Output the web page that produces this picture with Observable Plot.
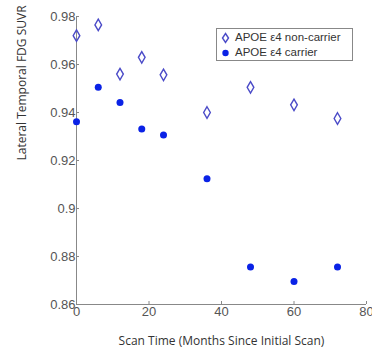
<!DOCTYPE html>
<html>
<head>
<meta charset="utf-8">
<script src="https://cdn.jsdelivr.net/npm/d3@7"></script>
<script src="https://cdn.jsdelivr.net/npm/@observablehq/plot@0.6"></script>
<style>
  html, body { margin: 0; padding: 0; background: #fff; }
  #wrap { position: relative; width: 372px; height: 348px; }
  #legend { position: absolute; left: 216px; top: 28px; width: 137px; height: 33px;
    border: 1px solid #888; background: #fff; font-family: "Liberation Sans", Arial, sans-serif;
    font-size: 11.5px; color: #333; box-sizing: border-box; padding: 1px 0 0 4px; line-height: 15px; }
  #legend .row { display: flex; align-items: center; white-space: nowrap; }
  #legend svg { margin-right: 5px; }
</style>
</head>
<body>
<div id="wrap"></div>
<script>
const months = [0, 6, 12, 18, 24, 36, 48, 60, 72];
const nonCarrier = [0.972, 0.9765, 0.956, 0.963, 0.9557, 0.940, 0.9505, 0.9432, 0.9375];
const carrier = [0.9361, 0.9505, 0.9442, 0.9331, 0.9306, 0.9124, 0.8756, 0.8696, 0.8756];
const yTicks = [0.86, 0.88, 0.9, 0.92, 0.94, 0.96, 0.98];
const xTicks = [0, 20, 40, 60, 80];
const seriesNames = ["APOE \u03b54 non-carrier", "APOE \u03b54 carrier"];
const colorNon = "#4b4bc8";
const colorCar = "#0a22e6";

const nonData = months.map((m, i) => ({m, v: nonCarrier[i]}));
const carData = months.map((m, i) => ({m, v: carrier[i]}));

const chart = Plot.plot({
  width: 372,
  height: 348,
  marginLeft: 76,
  marginRight: 6,
  marginTop: 16,
  marginBottom: 44,
  style: {fontFamily: "Liberation Sans, Arial, sans-serif", fontSize: "13px", color: "#555", background: "#fff", overflow: "visible"},
  x: {domain: [0, 80]},
  y: {domain: [0.86, 0.98]},
  marks: [
    Plot.axisX({ticks: xTicks, tickSize: -3, tickPadding: 5, stroke: "#888", label: null, fill: "#555"}),
    Plot.axisY({ticks: yTicks, tickSize: -3, tickPadding: 4, stroke: "#888", label: null, fill: "#555",
      tickFormat: d => String(+d.toFixed(2))}),
    Plot.ruleX([0], {stroke: "#888"}),
    Plot.ruleY([0.86], {stroke: "#888"}),
    Plot.text([seriesNames[0]], {frameAnchor: "bottom", dy: 40, text: () => "Scan Time (Months Since Initial Scan)",
      fontFamily: "Open Sans, sans-serif", fontSize: 12, fill: "#333"}),
    Plot.text(["y"], {frameAnchor: "left", dx: -54, rotate: -90, text: () => "Lateral Temporal FDG SUVR",
      fontFamily: "Open Sans, sans-serif", fontSize: 12, fill: "#333"}),
    Plot.dot(nonData, {x: "m", y: "v", symbol: "diamond", r: 3.5, stroke: colorNon, strokeWidth: 1.4, fill: "none"}),
    Plot.dot(carData, {x: "m", y: "v", symbol: "circle", r: 3.5, fill: colorCar, stroke: "none"})
  ]
});
const wrap = document.getElementById("wrap");
wrap.appendChild(chart);

const legend = document.createElement("div");
legend.id = "legend";
legend.innerHTML = `
  <div class="row"><svg width="9" height="12"><path d="M4.5,1.5 L7.5,6 L4.5,10.5 L1.5,6 Z" fill="none" stroke="${colorNon}" stroke-width="1.4"/></svg>${seriesNames[0]}</div>
  <div class="row"><svg width="9" height="12"><circle cx="4.5" cy="6" r="3.2" fill="${colorCar}"/></svg>${seriesNames[1]}</div>`;
wrap.appendChild(legend);
</script>
</body>
</html>
